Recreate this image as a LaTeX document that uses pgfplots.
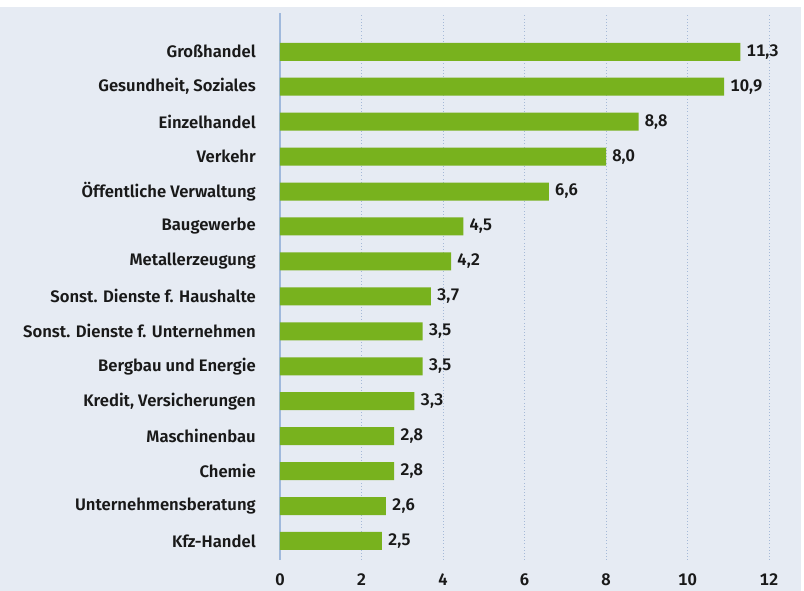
\documentclass[border=0pt]{standalone}
\usepackage{fontspec}
\setmainfont{Fira Sans}[BoldFont={* SemiBold}, Numbers=Monospaced]
\usepackage{pgfplots}
\pgfplotsset{compat=1.18}
\definecolor{bg}{RGB}{230,235,243}
\definecolor{barg}{RGB}{120,178,30}
\definecolor{axc}{RGB}{160,185,220}
\definecolor{gridc}{RGB}{165,185,215}
\definecolor{txt}{RGB}{25,25,25}
\begin{document}
\begin{tikzpicture}
\useasboundingbox (0pt,0pt) rectangle (603pt,443.25pt);
\fill[bg] (0pt,0pt) rectangle (603pt,443.25pt);
\fill[white] (0pt,438pt) rectangle (603pt,443.25pt);
\fill[white] (600.75pt,0pt) rectangle (603pt,443.25pt);
\begin{axis}[
  at={(210pt,23.25pt)}, anchor=south west,
  scale only axis, width=366.75pt, height=410pt,
  xmin=0, xmax=12, ymin=-0.544, ymax=15.1,
  xbar, bar width=13.5pt,
  axis line style={draw=none},
  major tick length=0pt,
  xtick={0,2,...,12},
  ytick={0,...,14},
  yticklabels={Kfz-Handel,Unternehmensberatung,Chemie,Maschinenbau,{Kredit, Versicherungen},Bergbau und Energie,Sonst. Dienste f. Unternehmen,Sonst. Dienste f. Haushalte,Metallerzeugung,Baugewerbe,{Öffentliche Verwaltung},Verkehr,Einzelhandel,{Gesundheit, Soziales},Großhandel},
  xmajorgrids,
  grid style={dotted, gridc, line width=0.6pt},
  extra x ticks={0}, extra x tick labels={},
  extra x tick style={grid style={solid, axc, line width=1.6pt}},
  /pgf/number format/assume math mode=true,
  xticklabel style={font=\bfseries\fontsize{12.5pt}{14pt}\selectfont, text=txt, anchor=center, yshift=-15pt, inner sep=0pt},
  yticklabel style={font=\bfseries\fontsize{12.5pt}{14pt}\selectfont, text=txt, anchor=east, inner sep=0pt, xshift=-18pt},
  nodes near coords,
  nodes near coords style={font=\bfseries\fontsize{12.5pt}{14pt}\selectfont, text=txt, anchor=west, inner sep=0pt, xshift=4.5pt,
    /pgf/number format/.cd, fixed, fixed zerofill, precision=1, use comma, assume math mode=true},
]
\addplot[fill=barg, draw=none] coordinates {
(2.5,0) (2.6,1) (2.8,2) (2.8,3) (3.3,4) (3.5,5) (3.5,6) (3.7,7) (4.2,8) (4.5,9) (6.6,10) (8.0,11) (8.8,12) (10.9,13) (11.3,14)
};
\end{axis}
\end{tikzpicture}
\end{document}
